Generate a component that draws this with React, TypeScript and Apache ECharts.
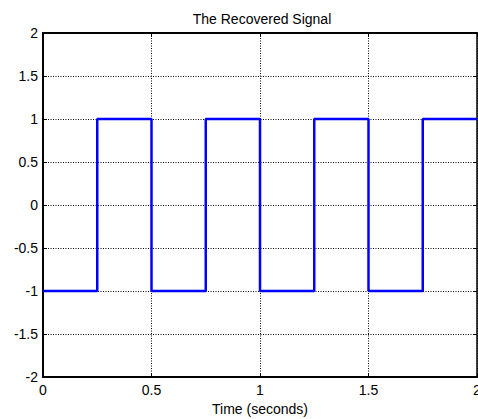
import React, { useEffect, useRef } from "react";
import * as echarts from "echarts";

const timeValues = [0, 0.25, 0.5, 0.75, 1, 1.25, 1.5, 1.75, 2];
const signalValues = [-1, 1, -1, 1, -1, 1, -1, 1, 1];
const titleText = "The Recovered Signal";
const xLabel = "Time (seconds)";

export default function App() {
  const ref = useRef<HTMLDivElement>(null);
  useEffect(() => {
    if (!ref.current) return;
    const chart = echarts.init(ref.current, null, { renderer: "svg" });
    const font = "Liberation Sans, Arial, sans-serif";
    const baseAxis = {
      axisLine: { show: true, onZero: false, lineStyle: { color: "#000", width: 2 } },
      axisTick: { show: true, inside: true, length: 4, lineStyle: { color: "#000", width: 1 } },
      splitLine: { show: false },
    };
    chart.setOption({
      animation: false,
      backgroundColor: "#fff",
      graphic: [
        {
          type: "text",
          x: 262,
          y: 19,
          style: {
            text: titleText,
            fontSize: 14,
            fontFamily: font,
            fill: "#000",
            align: "center",
            verticalAlign: "middle",
          },
        },
      ],
      grid: { left: 43, top: 33, right: 1, bottom: 42, containLabel: false, outerBoundsMode: "none" },
      xAxis: [
        {
          ...baseAxis,
          type: "value",
          min: 0,
          max: 2,
          interval: 0.5,
          position: "bottom",
          name: xLabel,
          nameLocation: "middle",
          nameGap: 32,
          nameTextStyle: { fontSize: 14, color: "#000", fontFamily: font, verticalAlign: "middle" },
          axisLabel: { fontSize: 14, color: "#000", fontFamily: font, margin: 6, showMaxLabel: true, showMinLabel: true },
          splitLine: { show: true, lineStyle: { type: [1, 1.5], color: "#000", width: 1 } },
        },
        {
          ...baseAxis,
          type: "value",
          min: 0,
          max: 2,
          interval: 0.5,
          position: "top",
          axisLabel: { show: false },
        },
      ],
      yAxis: [
        {
          ...baseAxis,
          type: "value",
          min: -2,
          max: 2,
          interval: 0.5,
          position: "left",
          axisLabel: { fontSize: 14, color: "#000", fontFamily: font, margin: 5 },
          splitLine: { show: true, lineStyle: { type: [1, 1.5], color: "#000", width: 1 } },
        },
        {
          ...baseAxis,
          type: "value",
          min: -2,
          max: 2,
          interval: 0.5,
          position: "right",
          axisLine: { show: true, onZero: false, lineStyle: { color: "#000", width: 1.5 } },
          axisLabel: { show: false },
        },
      ],
      series: [
        {
          type: "line",
          step: "end",
          data: timeValues.map((t, i) => [t, signalValues[i]]),
          symbol: "none",
          lineStyle: { color: "#0000ff", width: 2.5 },
          xAxisIndex: 0,
          yAxisIndex: 0,
        },
      ],
    });
    return () => chart.dispose();
  }, []);
  return (
    <div
      ref={ref}
      style={{ position: "fixed", left: 0, top: 0, width: 478, height: 419, background: "#fff" }}
    />
  );
}
